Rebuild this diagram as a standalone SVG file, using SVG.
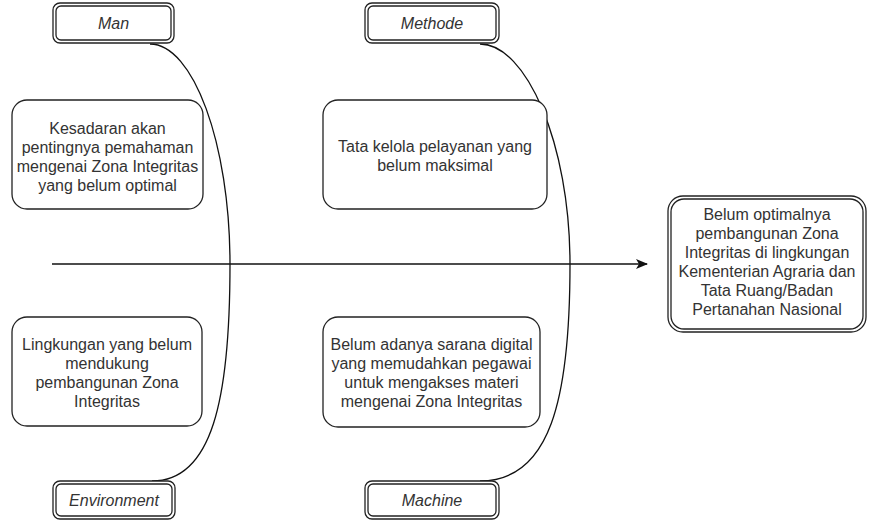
<svg xmlns="http://www.w3.org/2000/svg" width="869" height="520" viewBox="0 0 869 520">
<style>
text{font-family:"Liberation Sans",Arial,sans-serif;font-size:16px;fill:#333;text-anchor:middle}
.t{font-style:italic}
.box{fill:#fff;stroke:#222;stroke-width:1.3}
.dbl{fill:none;stroke:#222;stroke-width:1.3}
.edge{fill:none;stroke:#111;stroke-width:1.3}
</style>
<defs>
<marker id="arr" viewBox="0 0 12 10" refX="11" refY="5" markerWidth="12" markerHeight="10" markerUnits="userSpaceOnUse" orient="auto">
<path d="M0,0 L12,5 L0,10 L3,5 Z" fill="#111"/>
</marker>
</defs>
<g id="connectors">
<path class="edge" d="M52,264 L647,264" marker-end="url(#arr)"/>
<path class="edge" d="M150,44 C193,44 230,143 230,264 C230,400 212,481 152,481"/>
<path class="edge" d="M480,44 C526,44 570,143 570,264 C570,400 550,481 480,481"/>
</g>
<g id="man">
<rect class="box" x="53" y="3" width="121" height="40" rx="7"/>
<rect class="dbl" x="56" y="6" width="115" height="34" rx="5"/>
<text class="t" x="113.5" y="29">Man</text>
</g>
<g id="methode">
<rect class="box" x="365" y="3" width="134" height="40" rx="7"/>
<rect class="dbl" x="368" y="6" width="128" height="34" rx="5"/>
<text class="t" x="432" y="29">Methode</text>
</g>
<g id="environment">
<rect class="box" x="53" y="481" width="122" height="38" rx="7"/>
<rect class="dbl" x="56" y="484" width="116" height="32" rx="5"/>
<text class="t" x="114" y="506">Environment</text>
</g>
<g id="machine">
<rect class="box" x="365" y="481" width="134" height="38" rx="7"/>
<rect class="dbl" x="368" y="484" width="128" height="32" rx="5"/>
<text class="t" x="432" y="506">Machine</text>
</g>
<g id="cause-man">
<rect class="box" x="12" y="100" width="191" height="109" rx="15"/>
<text x="107.5" y="134">Kesadaran akan</text>
<text x="107.5" y="153">pentingnya pemahaman</text>
<text x="107.5" y="172">mengenai Zona Integritas</text>
<text x="107.5" y="191">yang belum optimal</text>
</g>
<g id="cause-methode">
<rect class="box" x="323" y="100" width="224" height="109" rx="15"/>
<text x="435" y="152">Tata kelola pelayanan yang</text>
<text x="435" y="171">belum maksimal</text>
</g>
<g id="cause-environment">
<rect class="box" x="12" y="317" width="190" height="109" rx="15"/>
<text x="107" y="350">Lingkungan yang belum</text>
<text x="107" y="369">mendukung</text>
<text x="107" y="388">pembangunan Zona</text>
<text x="107" y="407">Integritas</text>
</g>
<g id="cause-machine">
<rect class="box" x="323" y="317" width="217" height="110" rx="15"/>
<text x="431.5" y="350">Belum adanya sarana digital</text>
<text x="431.5" y="369">yang memudahkan pegawai</text>
<text x="431.5" y="388">untuk mengakses materi</text>
<text x="431.5" y="407">mengenai Zona Integritas</text>
</g>
<g id="effect">
<rect class="box" x="668" y="196" width="198" height="136" rx="15"/>
<rect class="dbl" x="671" y="199" width="192" height="130" rx="13"/>
<text x="767" y="220">Belum optimalnya</text>
<text x="767" y="239">pembangunan Zona</text>
<text x="767" y="258">Integritas di lingkungan</text>
<text x="767" y="277">Kementerian Agraria dan</text>
<text x="767" y="296">Tata Ruang/Badan</text>
<text x="767" y="315">Pertanahan Nasional</text>
</g>
</svg>
